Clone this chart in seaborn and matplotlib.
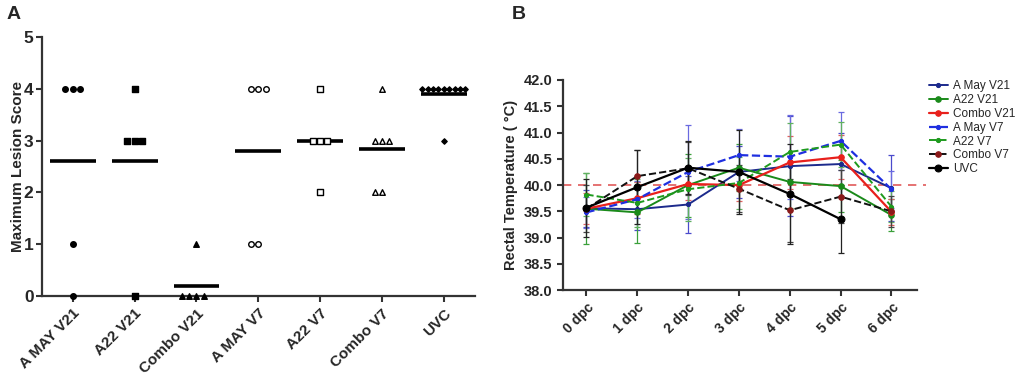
import numpy as np
import pandas as pd
import matplotlib
matplotlib.use("Agg")
import matplotlib.pyplot as plt
import seaborn as sns

# ---------------- Data ----------------
# Panel A: maximum lesion scores per animal
groups_a = ["A MAY V21", "A22 V21", "Combo V21", "A MAY V7", "A22 V7", "Combo V7", "UVC"]
scores_amay_v21 = [4, 4, 4, 1, 0]
scores_a22_v21 = [4, 3, 3, 3, 0]
scores_combo_v21 = [1, 0, 0, 0, 0]
scores_amay_v7 = [4, 4, 4, 1, 1]
scores_a22_v7 = [4, 3, 3, 3, 2]
scores_combo_v7 = [4, 3, 3, 3, 2, 2]
scores_uvc = [4, 4, 4, 4, 4, 4, 4, 4, 4, 3]

# Panel B: rectal temperatures (mean and SD)
days = ["0 dpc", "1 dpc", "2 dpc", "3 dpc", "4 dpc", "5 dpc", "6 dpc"]
series_b = ["A May V21", "A22 V21", "Combo V21", "A May V7", "A22 V7", "Combo V7", "UVC"]
temp_amay_v21 = [39.56, 39.54, 39.63, 40.25, 40.36, 40.40, 39.94]
temp_a22_v21 = [39.55, 39.48, 40.00, 40.33, 40.06, 39.98, 39.43]
temp_combo_v21 = [39.55, 39.75, 40.02, 40.00, 40.43, 40.53, 39.49]
temp_amay_v7 = [39.48, 39.73, 40.25, 40.57, 40.54, 40.84, 39.92]
temp_a22_v7 = [39.82, 39.66, 39.92, 40.04, 40.63, 40.77, 39.59]
temp_combo_v7 = [39.55, 40.17, 40.32, 39.93, 39.52, 39.78, 39.50]
temp_uvc = [39.57, 39.96, 40.33, 40.25, 39.83, 39.35, np.nan]

sd_amay_v21 = [0.35, 0.40, 0.55, 0.50, 0.95, 0.60, 0.63]
sd_a22_v21 = [0.67, 0.58, 0.60, 0.45, 0.50, 0.50, 0.30]
sd_combo_v21 = [0.30, 0.30, 0.30, 0.30, 0.50, 0.42, 0.25]
sd_amay_v7 = [0.30, 0.35, 0.90, 0.50, 0.80, 0.55, 0.35]
sd_a22_v7 = [0.40, 0.45, 0.60, 0.50, 0.55, 0.43, 0.30]
sd_combo_v7 = [0.45, 0.50, 0.50, 0.45, 0.60, 0.50, 0.30]
sd_uvc = [0.55, 0.70, 0.50, 0.80, 0.95, 0.65, np.nan]

threshold = 40.0

# ---------------- Style ----------------
sns.set_theme(style="ticks")
plt.rcParams["font.family"] = ["Liberation Sans", "DejaVu Sans"]
plt.rcParams["axes.edgecolor"] = "#333333"
plt.rcParams["axes.linewidth"] = 1.6

fig = plt.figure(figsize=(10.21, 3.90), dpi=100)
axA = fig.add_axes([0.041, 0.241, 0.424, 0.664])
axB = fig.add_axes([0.551, 0.256, 0.347, 0.539])

# ---------------- Panel A ----------------
score_lists = [scores_amay_v21, scores_a22_v21, scores_combo_v21, scores_amay_v7,
               scores_a22_v7, scores_combo_v7, scores_uvc]
marker_specs = [("o", "black"), ("s", "black"), ("^", "black"), ("o", "white"),
                ("s", "white"), ("^", "white"), ("D", "black")]
sizes = [4.0, 4.0, 4.0, 4.0, 4.0, 4.0, 2.7]

for i, (g, vals) in enumerate(zip(groups_a, score_lists)):
    df = pd.DataFrame({"group": [g] * len(vals), "score": vals})
    mk, fc = marker_specs[i]
    sns.swarmplot(data=df, x="group", y="score", order=groups_a, ax=axA,
                  marker=mk, color=fc, edgecolor="black", linewidth=1.0,
                  size=sizes[i], clip_on=False, zorder=3)
    m = np.mean(vals)
    axA.hlines(m, i - 0.37, i + 0.37, color="black", lw=2.6, zorder=2)

axA.set_xlim(-0.5, 6.5)
axA.set_ylim(0, 5)
axA.set_yticks(range(0, 6))
axA.set_xlabel("")
axA.set_ylabel("Maximum Lesion Score", fontsize=11, fontweight="bold")
axA.yaxis.set_label_coords(-0.04, 0.5)
axA.tick_params(axis="both", direction="out", length=4, width=1.5, color="#333333")
axA.tick_params(axis="y", labelsize=12.5, pad=2)
axA.tick_params(axis="x", labelsize=11)
for lab in axA.get_yticklabels():
    lab.set_fontweight("bold")
for lab in axA.get_xticklabels():
    lab.set_fontweight("bold")
    lab.set_rotation(45)
    lab.set_ha("right")
    lab.set_rotation_mode("anchor")
sns.despine(ax=axA)
for c in axA.collections:
    c.set_clip_on(False)

# ---------------- Panel B ----------------
temps = [temp_amay_v21, temp_a22_v21, temp_combo_v21, temp_amay_v7,
         temp_a22_v7, temp_combo_v7, temp_uvc]
sds = [sd_amay_v21, sd_a22_v21, sd_combo_v21, sd_amay_v7, sd_a22_v7, sd_combo_v7, sd_uvc]
line_colors = ["#1c2a8c", "#1a8a1a", "#e8201c", "#1f2fe0", "#1e9a1e", "#111111", "#000000"]
marker_colors = ["#1c2a8c", "#1a8a1a", "#e8201c", "#1f2fe0", "#1e9a1e", "#8b1a1a", "#000000"]
err_colors = ["#4a4acc", "#3aa03a", "#e06060", "#6a6ae0", "#60b060", "#444444", "#222222"]
styles = ["-", "-", "-", "--", "--", "--", "-"]
msizes = [3, 4, 4, 3, 3, 4, 5]
lws = [1.4, 1.4, 1.6, 1.6, 1.4, 1.4, 1.6]

x_idx = np.arange(len(days))
for k in range(len(series_b)):
    axB.errorbar(x_idx, temps[k], yerr=sds[k], fmt="none", ecolor=err_colors[k],
                 elinewidth=0.9, capsize=2, capthick=0.9, zorder=2)
for k, name in enumerate(series_b):
    df = pd.DataFrame({"x": x_idx, "t": temps[k]}).dropna()
    sns.lineplot(data=df, x="x", y="t", ax=axB, color=line_colors[k],
                 linestyle=styles[k], lw=lws[k], marker="o", markersize=msizes[k],
                 markerfacecolor=marker_colors[k], markeredgecolor=marker_colors[k],
                 label=name, zorder=3)

axB.axhline(threshold, xmin=0, xmax=1.025, color="#e05a5a", lw=1.2,
            linestyle=(0, (5, 4)), clip_on=False, zorder=1)
axB.set_xlim(-0.47, 6.5)
axB.set_ylim(38, 42)
axB.set_yticks(np.arange(38, 42.01, 0.5))
axB.set_yticklabels([f"{v:.1f}" for v in np.arange(38, 42.01, 0.5)])
axB.set_xticks(x_idx)
axB.set_xticklabels(days)
axB.set_xlabel("")
axB.set_ylabel("Rectal Temperature ( °C)", fontsize=10.5, fontweight="bold", labelpad=4)
axB.tick_params(axis="both", direction="out", length=4, width=1.5, color="#333333")
axB.tick_params(axis="y", labelsize=10.5)
axB.tick_params(axis="x", labelsize=10)
for lab in axB.get_yticklabels():
    lab.set_fontweight("bold")
for lab in axB.get_xticklabels():
    lab.set_fontweight("bold")
    lab.set_rotation(45)
    lab.set_ha("right")
    lab.set_rotation_mode("anchor")
sns.despine(ax=axB)
axB.legend(loc="upper left", bbox_to_anchor=(1.02, 1.02), frameon=False,
           fontsize=8.5, handlelength=1.6, handletextpad=0.5, labelspacing=0.15,
           borderaxespad=0)

fig.text(0.006, 0.985, "A", fontsize=14, fontweight="bold", va="top")
fig.text(0.501, 0.985, "B", fontsize=14, fontweight="bold", va="top")

fig.savefig("out.png", dpi=100)
